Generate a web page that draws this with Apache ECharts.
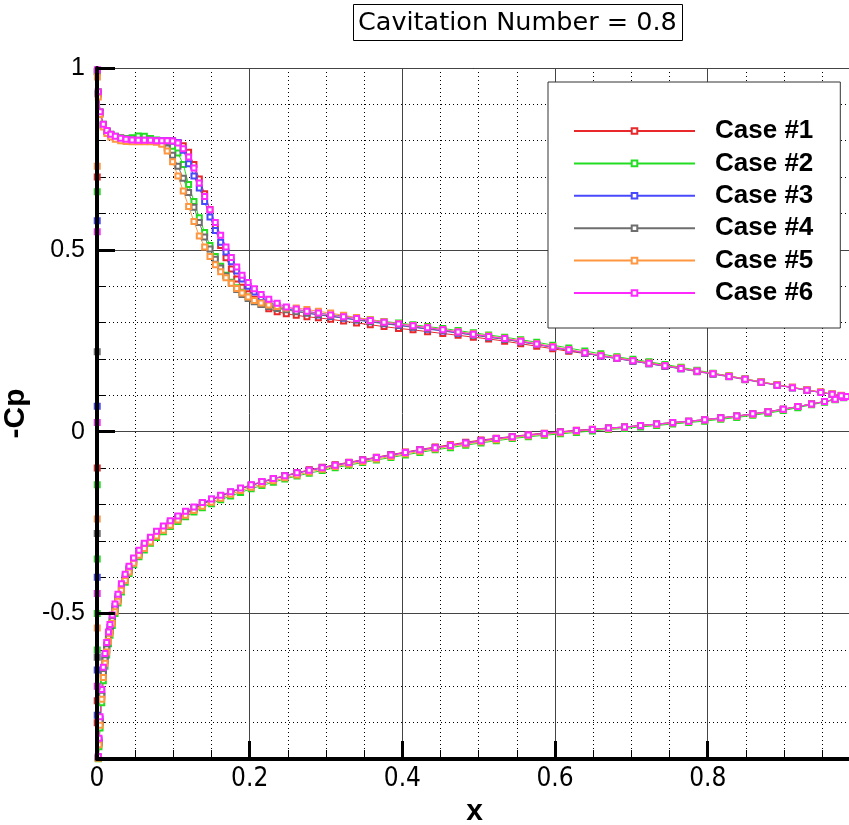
<!DOCTYPE html>
<html><head><meta charset="utf-8">
<script src="https://cdn.jsdelivr.net/npm/echarts@6/dist/echarts.min.js"></script>
<style>html,body{margin:0;padding:0;background:#fff}#c{width:849px;height:825px}</style>
</head><body><div id="c"></div>
<script>
const chartTitle = 'Cavitation Number = 0.8';
const caseNames = ['Case #1', 'Case #2', 'Case #3', 'Case #4', 'Case #5', 'Case #6'];
const yMajorTicks = [-0.5, 0, 0.5, 1];

// x positions, upper (suction) surface, leading edge -> trailing edge
const upperX = [0.0005,0.0017,0.004,0.0083,0.013,0.018,0.024,0.031,0.038,0.046,0.054,0.062,0.07,0.078,0.085,0.092,0.099,0.106,0.113,0.12,0.127,0.134,0.141,0.148,0.155,0.162,0.169,0.176,0.183,0.19,0.198,0.206,0.215,0.225,0.236,0.248,
 0.261,0.275,0.29,0.306,0.323,0.34,0.358,0.376,0.395,0.414,0.433,0.453,0.473,0.493,0.513,0.534,0.555,0.576,0.597,0.618,0.639,0.66,0.681,0.702,0.723,0.744,0.765,0.786,0.807,0.828,0.849,0.87,0.891,0.911,0.93,0.948,0.963,0.975,0.982];
// x positions, lower (pressure) surface, leading edge -> trailing edge
const lowerX = [0.0017,0.0026,0.004,0.0062,0.0083,0.0105,0.0127,0.015,0.017,0.02,0.0236,0.0275,0.032,0.037,0.042,0.048,0.055,0.062,0.07,0.078,0.087,0.096,0.106,0.116,0.127,0.138,0.15,0.162,0.175,0.188,0.202,0.216,0.231,0.246,0.262,0.278,0.295,0.312,0.33,0.348,0.366,0.385,0.404,0.423,0.443,0.463,0.483,0.503,0.523,0.544,0.565,0.586,0.607,0.628,0.649,0.67,0.691,0.712,0.733,0.754,0.775,0.796,0.817,0.838,0.859,0.879,0.899,0.918,0.936,0.953,0.967,0.978,0.982];
const edgeX = 0.0003;

// -Cp, upper surface
const upper1 = [0.99,0.93,0.877,0.843,0.826,0.817,0.811,0.807,0.804,0.802,0.801,0.801,0.801,0.800,0.800,0.800,0.799,0.795,0.786,0.768,0.735,0.695,0.654,0.611,0.562,0.512,0.478,0.447,0.420,0.397,0.379,0.364,0.350,0.338,0.330,0.324,
 0.320,0.316,0.313,0.309,0.304,0.299,0.294,0.289,0.284,0.280,0.275,0.270,0.265,0.260,0.255,0.249,0.242,0.235,0.228,0.221,0.215,0.209,0.203,0.196,0.189,0.182,0.175,0.167,0.160,0.153,0.145,0.137,0.129,0.122,0.115,0.109,0.103,0.099,0.097];
const upper2 = [1.005,0.935,0.88,0.845,0.827,0.818,0.812,0.808,0.806,0.808,0.813,0.812,0.806,0.802,0.800,0.795,0.785,0.766,0.735,0.680,0.633,0.588,0.548,0.512,0.482,0.455,0.430,0.411,0.396,0.383,0.370,0.360,0.352,0.346,0.341,0.337,
 0.334,0.330,0.326,0.322,0.318,0.313,0.308,0.303,0.299,0.294,0.289,0.284,0.278,0.272,0.266,0.260,0.253,0.246,0.238,0.230,0.222,0.214,0.206,0.199,0.192,0.185,0.177,0.169,0.161,0.153,0.145,0.137,0.129,0.121,0.114,0.108,0.103,0.099,0.097];
const upper3 = [0.99,0.928,0.876,0.842,0.825,0.816,0.810,0.806,0.803,0.801,0.800,0.800,0.800,0.800,0.800,0.800,0.799,0.795,0.774,0.737,0.703,0.670,0.633,0.590,0.553,0.521,0.494,0.467,0.442,0.420,0.400,0.384,0.369,0.356,0.346,0.339,
 0.331,0.326,0.321,0.317,0.312,0.307,0.302,0.297,0.292,0.287,0.282,0.277,0.271,0.266,0.260,0.254,0.247,0.240,0.232,0.224,0.216,0.208,0.201,0.194,0.187,0.180,0.173,0.166,0.159,0.152,0.144,0.136,0.128,0.121,0.114,0.108,0.103,0.099,0.097];
const upper4 = [0.99,0.93,0.877,0.843,0.826,0.817,0.811,0.807,0.804,0.802,0.801,0.801,0.800,0.799,0.793,0.780,0.760,0.730,0.697,0.658,0.617,0.575,0.535,0.502,0.474,0.450,0.428,0.409,0.391,0.377,0.366,0.357,0.350,0.344,0.339,0.335,
 0.330,0.326,0.322,0.318,0.313,0.308,0.303,0.298,0.293,0.288,0.283,0.278,0.272,0.266,0.260,0.254,0.247,0.240,0.232,0.224,0.216,0.208,0.201,0.194,0.187,0.180,0.173,0.165,0.158,0.151,0.143,0.135,0.128,0.121,0.114,0.108,0.103,0.099,0.097];
const upper5 = [0.975,0.92,0.872,0.838,0.820,0.810,0.804,0.800,0.798,0.797,0.797,0.797,0.797,0.796,0.790,0.772,0.742,0.703,0.662,0.619,0.578,0.538,0.508,0.482,0.459,0.440,0.423,0.408,0.394,0.381,0.370,0.361,0.354,0.348,0.344,0.340,
 0.340,0.336,0.331,0.326,0.320,0.314,0.308,0.302,0.297,0.292,0.287,0.281,0.275,0.269,0.263,0.257,0.250,0.242,0.234,0.226,0.218,0.210,0.203,0.196,0.189,0.182,0.175,0.167,0.160,0.153,0.145,0.137,0.129,0.122,0.115,0.109,0.104,0.100,0.097];
const upper6 = [0.995,0.935,0.88,0.845,0.828,0.818,0.812,0.807,0.804,0.802,0.801,0.801,0.801,0.800,0.800,0.800,0.799,0.794,0.778,0.755,0.725,0.684,0.647,0.610,0.575,0.540,0.508,0.479,0.453,0.430,0.410,0.393,0.377,0.364,0.353,0.343,
 0.337,0.331,0.326,0.321,0.316,0.311,0.306,0.301,0.296,0.291,0.286,0.280,0.274,0.268,0.262,0.256,0.249,0.241,0.233,0.225,0.217,0.209,0.202,0.195,0.188,0.181,0.174,0.166,0.159,0.152,0.144,0.136,0.128,0.121,0.114,0.108,0.103,0.099,0.097];

// -Cp, lower surface
const lower1 = [-0.897,-0.856,-0.800,-0.728,-0.668,-0.630,-0.600,-0.570,-0.548,-0.522,-0.490,-0.462,-0.432,-0.405,-0.382,-0.358,-0.336,-0.317,-0.299,-0.283,-0.267,-0.253,-0.239,-0.226,-0.213,-0.200,-0.188,-0.177,-0.167,-0.157,-0.147,-0.138,-0.129,-0.121,-0.113,-0.105,-0.098,-0.091,-0.084,-0.077,-0.070,-0.063,-0.056,-0.049,-0.042,-0.036,-0.029,-0.023,-0.018,-0.013,-0.008,-0.004,0.000,0.004,0.007,0.010,0.013,0.017,0.021,0.025,0.029,0.033,0.038,0.043,0.049,0.055,0.062,0.069,0.076,0.083,0.089,0.094,0.097];
const lower2 = [-0.899,-0.866,-0.815,-0.745,-0.685,-0.645,-0.614,-0.583,-0.560,-0.533,-0.500,-0.471,-0.441,-0.414,-0.390,-0.366,-0.344,-0.325,-0.307,-0.291,-0.275,-0.261,-0.247,-0.234,-0.221,-0.209,-0.198,-0.187,-0.177,-0.167,-0.157,-0.148,-0.139,-0.130,-0.122,-0.114,-0.107,-0.099,-0.092,-0.085,-0.078,-0.071,-0.064,-0.057,-0.050,-0.044,-0.037,-0.031,-0.025,-0.019,-0.014,-0.010,-0.006,-0.002,0.002,0.006,0.009,0.013,0.017,0.021,0.025,0.029,0.034,0.039,0.045,0.051,0.058,0.066,0.074,0.081,0.088,0.093,0.097];
const lower3 = [-0.895,-0.848,-0.790,-0.716,-0.655,-0.618,-0.588,-0.559,-0.538,-0.512,-0.481,-0.453,-0.424,-0.397,-0.375,-0.351,-0.330,-0.311,-0.293,-0.277,-0.262,-0.248,-0.234,-0.221,-0.209,-0.197,-0.186,-0.176,-0.166,-0.156,-0.147,-0.139,-0.130,-0.122,-0.114,-0.107,-0.100,-0.093,-0.086,-0.079,-0.072,-0.065,-0.058,-0.051,-0.045,-0.038,-0.032,-0.026,-0.020,-0.015,-0.010,-0.006,-0.002,0.002,0.005,0.009,0.012,0.016,0.020,0.024,0.028,0.032,0.037,0.042,0.048,0.054,0.061,0.069,0.076,0.083,0.089,0.094,0.097];
const lower4 = [-0.897,-0.854,-0.797,-0.725,-0.665,-0.627,-0.597,-0.567,-0.545,-0.519,-0.487,-0.459,-0.429,-0.402,-0.379,-0.355,-0.333,-0.314,-0.296,-0.280,-0.265,-0.251,-0.237,-0.224,-0.211,-0.199,-0.188,-0.177,-0.167,-0.157,-0.148,-0.139,-0.130,-0.122,-0.114,-0.106,-0.099,-0.092,-0.085,-0.078,-0.071,-0.064,-0.057,-0.050,-0.044,-0.038,-0.031,-0.025,-0.019,-0.014,-0.009,-0.005,-0.001,0.003,0.006,0.010,0.013,0.017,0.021,0.025,0.029,0.033,0.038,0.043,0.049,0.055,0.062,0.069,0.076,0.083,0.089,0.094,0.097];
const lower5 = [-0.898,-0.861,-0.807,-0.736,-0.676,-0.637,-0.606,-0.576,-0.554,-0.527,-0.495,-0.466,-0.436,-0.409,-0.386,-0.362,-0.340,-0.321,-0.303,-0.287,-0.271,-0.257,-0.243,-0.230,-0.217,-0.205,-0.194,-0.183,-0.172,-0.162,-0.153,-0.144,-0.135,-0.127,-0.119,-0.111,-0.103,-0.096,-0.089,-0.082,-0.075,-0.068,-0.061,-0.054,-0.047,-0.040,-0.034,-0.028,-0.022,-0.016,-0.011,-0.007,-0.003,0.001,0.005,0.008,0.012,0.016,0.020,0.024,0.028,0.032,0.037,0.042,0.048,0.054,0.061,0.069,0.076,0.083,0.089,0.094,0.097];
const lower6 = [-0.893,-0.843,-0.784,-0.709,-0.648,-0.610,-0.580,-0.551,-0.530,-0.504,-0.474,-0.447,-0.418,-0.392,-0.370,-0.347,-0.326,-0.307,-0.290,-0.274,-0.259,-0.245,-0.232,-0.219,-0.207,-0.195,-0.185,-0.175,-0.165,-0.155,-0.146,-0.137,-0.129,-0.121,-0.113,-0.106,-0.099,-0.092,-0.085,-0.078,-0.071,-0.064,-0.057,-0.050,-0.044,-0.038,-0.031,-0.025,-0.019,-0.014,-0.009,-0.005,-0.001,0.003,0.006,0.010,0.013,0.017,0.021,0.025,0.029,0.033,0.038,0.043,0.049,0.055,0.062,0.069,0.076,0.083,0.089,0.094,0.097];

// -Cp of points sitting on the leading edge (x ~ 0)
const edge1 = [-0.80,-0.74,-0.10,0.70];
const edge2 = [-0.60,-0.50,-0.35,-0.146,0.66];
const edge3 = [-0.78,-0.655,-0.40,0.07,0.58];
const edge4 = [-0.62,-0.28,0.22];
const edge5 = [-0.54,-0.24,0.73];
const edge6 = [-0.70,-0.445,0.025,0.55];

const uppers = [upper1, upper2, upper3, upper4, upper5, upper6];
const lowers = [lower1, lower2, lower3, lower4, lower5, lower6];
const edges = [edge1, edge2, edge3, edge4, edge5, edge6];
const colors = ['#e8282a', '#22dd22', '#4848ff', '#6e6e6e', '#ff9640', '#ff28ff'];

function buildCase(i) {
  const pts = [];
  const lo = lowers[i], up = uppers[i];
  for (let k = lowerX.length - 1; k >= 0; k--) pts.push([lowerX[k], lo[k]]);
  edges[i].forEach(v => pts.push([edgeX, v]));
  for (let k = 0; k < upperX.length; k++) pts.push([upperX[k], up[k]]);
  return pts;
}

const X_MIN = 0, X_MAX = 0.989, Y_MIN = -0.9, Y_MAX = 1;
const labelFont = 'Liberation Sans, Arial, sans-serif';
const narrowFont = "'Liberation Sans Narrow', 'DejaVu Sans Condensed', sans-serif";

const series = caseNames.map((name, i) => ({
  name, type: 'line', xAxisIndex: 0, yAxisIndex: 0,
  data: buildCase(i),
  symbol: 'emptyRect', symbolSize: 5, showSymbol: true, showAllSymbol: true,
  lineStyle: { color: colors[i], width: 1 },
  itemStyle: { color: colors[i], borderWidth: 1 },
  emphasis: { disabled: true }, silent: true, animation: false, z: 2
}));
series.unshift({
  type: 'line', name: '_grid', data: [], xAxisIndex: 0, yAxisIndex: 0, z: 1, silent: true, animation: false,
  markLine: {
    silent: true, z: 1, animation: false, symbol: ['none', 'none'], label: { show: false },
    lineStyle: { color: '#444', width: 1, type: 'solid' },
    data: yMajorTicks.map(v => ({ yAxis: v }))
  }
});

const chart = echarts.init(document.getElementById('c'), null, { renderer: 'canvas' });
chart.setOption({
  animation: false,
  backgroundColor: '#fff',
  title: {
    text: chartTitle, left: 353, top: 4, padding: [6, 6, 5, 5],
    borderColor: '#000', borderWidth: 1,
    textStyle: { fontFamily: 'DejaVu Sans', fontSize: 25.5, fontWeight: 'normal', color: '#000' }
  },
  legend: {
    data: caseNames, orient: 'vertical', left: 548, top: 82,
    padding: [36, 27, 22, 25], itemWidth: 121, itemHeight: 7, itemGap: 6.4,
    backgroundColor: '#fff', borderColor: '#333', borderWidth: 1, selectedMode: false,
    textStyle: { fontSize: 26, fontWeight: 'bold', color: '#000', fontFamily: labelFont, lineHeight: 26, padding: [0, 0, 0, 15] }
  },
  grid: { left: 97, top: 68, right: -3, bottom: 66, outerBoundsMode: 'none' },
  xAxis: [
    {
      type: 'value', min: X_MIN, max: X_MAX, interval: 0.2, position: 'bottom', z: 3,
      axisLine: { show: true, onZero: false, lineStyle: { color: '#000', width: 4 } },
      axisTick: { show: true, inside: true, length: 18, lineStyle: { color: '#000', width: 3 } },
      axisLabel: { show: true, showMaxLabel: false, margin: 7, color: '#000', fontSize: 26, fontFamily: narrowFont,
        formatter: v => (Math.abs(v / 0.2 - Math.round(v / 0.2)) < 1e-6 ? String(+v.toFixed(1)) : '') },
      splitLine: { show: false },
      name: 'x', nameLocation: 'middle', nameGap: 29,
      nameTextStyle: { fontFamily: labelFont, fontSize: 30, fontWeight: 'bold', color: '#000' }
    },
    {
      type: 'value', min: X_MIN, max: X_MAX, interval: 0.05, position: 'bottom', z: 1,
      axisLine: { show: false, onZero: false }, axisLabel: { show: false },
      axisTick: { show: true, inside: true, length: 9, lineStyle: { color: '#000', width: 1 } },
      splitLine: { show: true, lineStyle: { color: '#000', width: 1, type: [1, 3] } }
    },
    {
      type: 'value', min: X_MIN, max: X_MAX, interval: 0.2, position: 'bottom', z: 1,
      axisLine: { show: false, onZero: false }, axisLabel: { show: false }, axisTick: { show: false },
      splitLine: { show: true, lineStyle: { color: '#444', width: 1, type: 'solid' } }
    }
  ],
  yAxis: [
    {
      type: 'value', min: Y_MIN, max: Y_MAX, interval: 0.1, position: 'left', z: 3,
      axisLine: { show: true, onZero: false, lineStyle: { color: '#000', width: 4 } },
      axisTick: { show: true, inside: true, length: 18, lineStyle: { color: '#000', width: 3 }, customValues: yMajorTicks },
      axisLabel: { show: true, customValues: yMajorTicks, margin: 12, color: '#000', fontSize: 25, fontFamily: labelFont,
        formatter: v => (Math.abs(v / 0.5 - Math.round(v / 0.5)) < 1e-6 ? String(+v.toFixed(1)) : '') },
      splitLine: { show: false },
      name: '-Cp', nameLocation: 'middle', nameRotate: 90, nameGap: 51,
      nameTextStyle: { fontFamily: labelFont, fontSize: 30, fontWeight: 'bold', color: '#000' }
    },
    {
      type: 'value', min: Y_MIN, max: Y_MAX, interval: 0.1, position: 'left', z: 1,
      axisLine: { show: false, onZero: false }, axisLabel: { show: false },
      axisTick: { show: true, inside: true, length: 8, lineStyle: { color: '#000', width: 1 } },
      splitLine: { show: true, lineStyle: { color: '#000', width: 1, type: [1, 3] } }
    }
  ],
  series
});
</script>
</body></html>
